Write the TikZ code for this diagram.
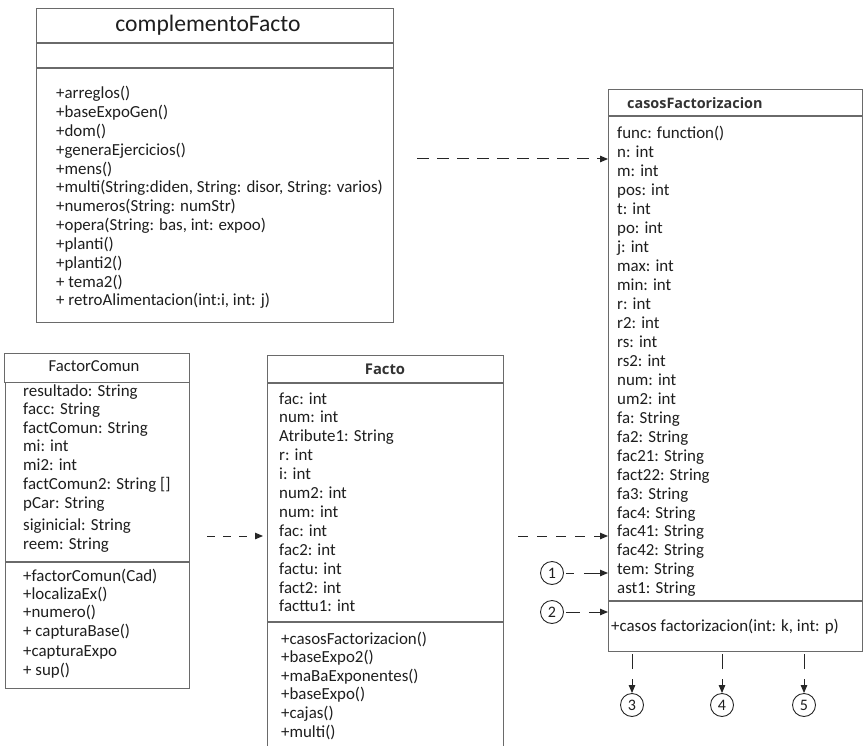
\documentclass[tikz,border=0pt]{standalone}
\usepackage{fontspec}
\setmainfont{Carlito}
\newfontfamily\titlefont{Open Sans}
\usetikzlibrary{arrows.meta}
\definecolor{boxgray}{HTML}{6A6A6A}
\definecolor{txt}{HTML}{1E1E1E}
\begin{document}
\begin{tikzpicture}[x=1pt,y=-1pt,
  box/.style={draw=boxgray, line width=1.1pt, fill=white, inner sep=0pt, anchor=north west},
  divline/.style={draw=boxgray, line width=1.1pt},
  attr/.style={anchor=west, inner sep=0pt, text height=11.5pt, text depth=3.5pt, font=\fontsize{16.9}{18}\selectfont, text=txt},
  conn/.style={draw=black!85, line width=1pt, -{Triangle[length=8pt,width=6.5pt]}},
  num/.style={draw=black!85, circle, line width=0.9pt, minimum size=23pt, inner sep=0pt, font=\fontsize{16}{18}\selectfont, text=txt}]
\useasboundingbox (0,0) rectangle (864,746);

% ---------- complementoFacto ----------
\node[box, minimum width=357pt, minimum height=314pt] (cf) at (36,8) {};
\draw[divline] (cf.west |- 0,43) -- (cf.east |- 0,43);
\draw[divline] (cf.west |- 0,68) -- (cf.east |- 0,68);
\node[font=\fontsize{23.6}{26}\selectfont, text=txt] (cftitle) at (208,25) {complementoFacto};
\foreach \t [count=\i] in {{+arreglos()},{+baseExpoGen()},{+dom()},{+generaEjercicios()},{+mens()},{+multi(String:diden, String: disor, String: varios)},{+numeros(String: numStr)},{+opera(String: bas, int: expoo)},{+planti()},{+planti2()},{+ tema2()},{+ retroAlimentacion(int:i, int: j)}}
  \node[attr] (cfm\i) at (56,{95+18.8*(\i-1)}) {\t};

% ---------- casosFactorizacion ----------
\node[box, minimum width=254pt, minimum height=562pt] (cz) at (608,89) {};
\draw[divline] (cz.west |- 0,116) -- (cz.east |- 0,116);
\draw[divline] (cz.west |- 0,601) -- (cz.east |- 0,601);
\node[anchor=west, inner sep=0pt, font=\titlefont\bfseries\fontsize{14.4}{16}\selectfont, text=black!80] (cztitle) at (627,103) {casosFactorizacion};
\foreach \t [count=\i] in {{func: function()},{n: int},{m: int},{pos: int},{t: int},{po: int},{j: int},{max: int},{min: int},{r: int},{r2: int},{rs: int},{rs2: int},{num: int},{um2: int},{fa: String},{fa2: String},{fac21: String},{fact22: String},{fa3: String},{fac4: String},{fac41: String},{fac42: String},{tem: String},{ast1: String}}
  \node[attr] (cza\i) at (617,{135+18.95*(\i-1)}) {\t};
\node[attr] (czm1) at (611,627) {+casos factorizacion(int: k, int: p)};

% ---------- FactorComun ----------
\node[box, minimum width=185pt, minimum height=29pt] (fctitlebox) at (4,353) {};
\node[font=\fontsize{16.7}{18}\selectfont, text=txt] (fctitle) at (94,366) {FactorComun};
\node[box, minimum width=184pt, minimum height=306pt] (fc) at (5,382) {};
\draw[divline] (fc.west |- 0,562) -- (fc.east |- 0,562);
\foreach \t/\yy [count=\i] in {{resultado: String}/392,{facc: String}/410,{factComun: String}/429,{mi: int}/447,{mi2: int}/466,{factComun2: String []}/485,{pCar: String}/504,{siginicial: String}/526,{reem: String}/545}
  \node[attr] (fca\i) at (23,\yy) {\t};
\foreach \t/\yy [count=\i] in {{+factorComun(Cad)}/577,{+localizaEx()}/595,{+numero()}/613,{+ capturaBase()}/632,{+capturaExpo}/652,{+ sup()}/671}
  \node[attr] (fcm\i) at (23,\yy) {\t};

% ---------- Facto ----------
\node[box, minimum width=236pt, minimum height=400pt] (fa) at (267,355) {};
\draw[divline] (fa.west |- 0,383) -- (fa.east |- 0,383);
\draw[divline] (fa.west |- 0,622) -- (fa.east |- 0,622);
\node[font=\titlefont\bfseries\fontsize{14.8}{16}\selectfont, text=black!80] (fatitle) at (385,369) {Facto};
\foreach \t [count=\i] in {{fac: int},{num: int},{Atribute1: String},{r: int},{i: int},{num2: int},{num: int},{fac: int},{fac2: int},{factu: int},{fact2: int},{facttu1: int}}
  \node[attr] (faa\i) at (279,{400+18.9*(\i-1)}) {\t};
\foreach \t [count=\i] in {{+casosFactorizacion()},{+baseExpo2()},{+maBaExponentes()},{+baseExpo()},{+cajas()},{+multi()}}
  \node[attr] (fam\i) at (281,{640+18.6*(\i-1)}) {\t};

% ---------- connectors ----------
\coordinate (s1) at (417,159);
\draw[conn, dash pattern=on 12pt off 8pt] (s1) -- (cz.west |- s1);
\coordinate (s2) at (518,536);
\draw[conn, dash pattern=on 10pt off 9pt] (s2) -- (cz.west |- s2);
\coordinate (s3) at (207,536);
\draw[conn, dash pattern=on 8pt off 8pt, shorten >=4pt] (s3) -- (fa.west |- s3);

\node[num] (n1) at (552,573) {1};
\node[num] (n2) at (552,612) {2};
\draw[conn, dash pattern=on 8pt off 10pt on 40pt] (n1.east) ++(2,0) coordinate (n1s) (n1s) -- (cz.west |- n1);
\draw[conn, dash pattern=on 14pt off 9pt on 40pt] (n2.east) ++(2,0) coordinate (n2s) (n2s) -- (cz.west |- n2);

\node[num] (n3) at (632,705) {3};
\node[num] (n4) at (722,705) {4};
\node[num] (n5) at (804,705) {5};
\draw[conn, dash pattern=on 15pt off 10pt on 40pt] (cz.south -| n3) ++(0,2) coordinate (n3s) (n3s) -- (n3.north);
\draw[conn, dash pattern=on 15pt off 10pt on 40pt] (cz.south -| n4) ++(0,2) coordinate (n4s) (n4s) -- (n4.north);
\draw[conn, dash pattern=on 15pt off 10pt on 40pt] (cz.south -| n5) ++(0,2) coordinate (n5s) (n5s) -- (n5.north);
\end{tikzpicture}
\end{document}
